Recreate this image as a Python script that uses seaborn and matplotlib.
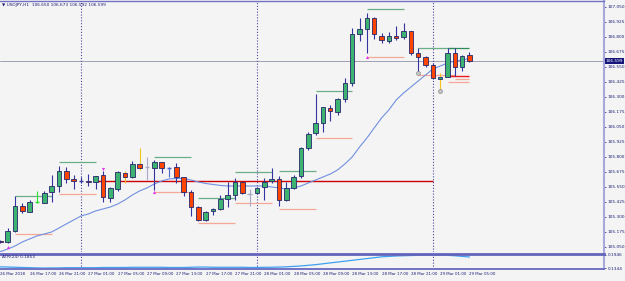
#!/usr/bin/env python3
"""USDJPY H1 candles with MA, range levels and an ATR(24) subwindow, MT4 look."""

import matplotlib
matplotlib.use("Agg")
import matplotlib.pyplot as plt
import matplotlib.transforms as mtransforms
import numpy as np
import pandas as pd
import seaborn as sns

BAR_TIMES = pd.date_range("2018-03-26 13:00", periods=65, freq="h")

OPEN = [105.096, 105.094, 105.183, 105.392, 105.344, 105.423, 105.419, 105.511, 105.561, 105.683,
        105.614, 105.601, 105.600, 105.594, 105.648, 105.456, 105.533, 105.669, 105.631, 105.744,
        105.720, 105.711, 105.756, 105.711, 105.714, 105.631, 105.506, 105.386, 105.275, 105.350,
        105.364, 105.450, 105.483, 105.589, 105.492, 105.497, 105.547, 105.600, 105.619, 105.442,
        105.539, 105.642, 105.877, 105.997, 106.081, 106.211, 106.173, 106.281, 106.414, 106.822,
        106.864, 106.956, 106.808, 106.769, 106.808, 106.797, 106.850, 106.664, 106.631, 106.567,
        106.450, 106.469, 106.664, 106.553, 106.650]
HIGH = [105.105, 105.211, 105.477, 105.414, 105.442, 105.517, 105.519, 105.650, 105.728, 105.719,
        105.650, 105.636, 105.658, 105.642, 105.686, 105.553, 105.683, 105.683, 105.769, 105.872,
        105.797, 105.775, 105.758, 105.719, 105.753, 105.636, 105.525, 105.392, 105.350, 105.372,
        105.483, 105.594, 105.622, 105.594, 105.531, 105.547, 105.622, 105.706, 105.642, 105.594,
        105.650, 105.886, 106.006, 106.322, 106.220, 106.233, 106.289, 106.461, 106.872, 106.956,
        107.003, 106.969, 106.831, 106.844, 106.892, 106.919, 106.853, 106.706, 106.642, 106.581,
        106.503, 106.706, 106.706, 106.650, 106.673]
LOW = [105.085, 105.082, 105.175, 105.336, 105.339, 105.417, 105.414, 105.428, 105.511, 105.586,
       105.531, 105.581, 105.558, 105.531, 105.428, 105.428, 105.519, 105.586, 105.628, 105.692,
       105.608, 105.525, 105.664, 105.631, 105.581, 105.478, 105.311, 105.269, 105.269, 105.317,
       105.358, 105.386, 105.442, 105.489, 105.392, 105.492, 105.442, 105.581, 105.394, 105.433,
       105.533, 105.628, 105.858, 105.983, 106.011, 106.103, 106.150, 106.261, 106.392, 106.769,
       106.664, 106.781, 106.747, 106.747, 106.775, 106.781, 106.650, 106.511, 106.553, 106.450,
       106.358, 106.464, 106.475, 106.517, 106.592]
CLOSE = [105.092, 105.186, 105.392, 105.353, 105.428, 105.423, 105.503, 105.561, 105.683, 105.614,
         105.603, 105.600, 105.592, 105.639, 105.464, 105.539, 105.675, 105.631, 105.742, 105.711,
         105.719, 105.761, 105.706, 105.710, 105.636, 105.506, 105.386, 105.275, 105.344, 105.367,
         105.450, 105.483, 105.589, 105.503, 105.491, 105.539, 105.594, 105.619, 105.442, 105.539,
         105.636, 105.872, 105.992, 106.086, 106.214, 106.183, 106.281, 106.414, 106.822, 106.867,
         106.956, 106.822, 106.775, 106.808, 106.792, 106.850, 106.664, 106.631, 106.567, 106.456,
         106.469, 106.664, 106.553, 106.642, 106.599]

MA = [105.011, 105.033, 105.058, 105.092, 105.117, 105.142, 105.158, 105.175, 105.208, 105.242,
      105.275, 105.308, 105.325, 105.350, 105.367, 105.383, 105.408, 105.442, 105.483, 105.517,
      105.542, 105.575, 105.600, 105.617, 105.621, 105.621, 105.608, 105.592, 105.579, 105.571,
      105.563, 105.558, 105.558, 105.558, 105.558, 105.558, 105.558, 105.550, 105.542, 105.533,
      105.542, 105.558, 105.583, 105.608, 105.633, 105.658, 105.692, 105.742, 105.800, 105.883,
      105.958, 106.042, 106.125, 106.192, 106.275, 106.333, 106.383, 106.433, 106.483, 106.533,
      106.558, 106.583, 106.600, 106.608, 106.621]

ATR = [0.140, 0.139, 0.138, 0.137, 0.136, 0.135, 0.1344, 0.135, 0.135, 0.136,
       0.136, 0.136, 0.136, 0.136, 0.137, 0.137, 0.137, 0.137, 0.138, 0.138,
       0.138, 0.138, 0.138, 0.137, 0.137, 0.137, 0.138, 0.139, 0.139, 0.138,
       0.138, 0.138, 0.138, 0.138, 0.137, 0.137, 0.138, 0.138, 0.139, 0.140,
       0.142, 0.144, 0.147, 0.150, 0.154, 0.158, 0.162, 0.166, 0.170, 0.174,
       0.178, 0.182, 0.186, 0.188, 0.190, 0.191, 0.192, 0.193, 0.194, 0.1946,
       0.194, 0.193, 0.191, 0.188, 0.1853]

# range boxes: top (green) and bottom (salmon) levels, in bar units
LEVEL_START = [2, 8, 21, 27, 32, 38, 43, 50, 57]
LEVEL_END = [7, 13, 26, 32, 37, 43, 48, 55, 62]
LEVEL_HIGH = [105.477, 105.756, 105.803, 105.456, 105.672, 105.683, 106.350, 107.031, 106.711]
LEVEL_LOW = [105.156, 105.489, 105.506, 105.247, 105.414, 105.367, 105.956, 106.636, 106.483]

ACTIVE_START, ACTIVE_END = 61, 64
ACTIVE_HIGH, ACTIVE_LOW = 106.706, 106.475
ACTIVE_EXTRA_LOWS = [106.447, 106.427]
ACTIVE_EXTRA_START = [62, 61]

PIVOT_LEVEL, PIVOT_START, PIVOT_END = 105.597, 13, 59

ARROW_UP_BARS = [1, 21, 50]
ARROW_UP_PRICES = [105.053, 105.505, 106.636]
ARROW_DOWN_BARS = [14]
ARROW_DOWN_PRICES = [105.700]
DOT_BARS = [57, 60]
DOT_PRICES = [106.497, 106.353]

DAY_BREAKS = [11, 35, 59]
PRICE_TICKS = [105.050 + 0.125 * k for k in range(17)]
ATR_TICKS = [0.1344, 0.1946]

BG = "#f4f4f4"
NAVY = "#1c1c78"
WICK = "#3434a0"
GREEN = "#3cb371"
RED = "#ff4500"
EDGE = "#26266c"
FS = 3.1
FS_X = 2.85
SPECIAL_WICK = {5: "#2ee02e", 17: "#f2c21a", 19: "#f2c21a", 60: "#f2c21a",
                20: "#a8a8c8", 34: "#a8a8c8", 23: "#4a6ad0"}

sns.set_style("white")
plt.rcParams["font.family"] = ["DejaVu Sans"]

df = pd.DataFrame({"time": BAR_TIMES, "open": OPEN, "high": HIGH, "low": LOW,
                   "close": CLOSE, "ma": MA, "atr": ATR})
x = np.arange(len(df))

fig = plt.figure(figsize=(6.25, 2.81), dpi=100, facecolor=BG)
ax = fig.add_axes([0, 1 - 252 / 281, 604 / 625, 251 / 281], facecolor=BG)
ax_atr = fig.add_axes([0, 1 - 269 / 281, 604 / 625, 15 / 281], facecolor=BG)

# bid line and day separators
ax.axhline(df.close.iloc[-1], color="#9ca2b4", lw=0.7, zorder=1)
for b in DAY_BREAKS:
    for a in (ax, ax_atr):
        a.axvline(b, color="#4848a0", lw=0.8, ls=(0, (1, 1.6)), zorder=1)

# range levels
for s, e, hi, lo in zip(LEVEL_START, LEVEL_END, LEVEL_HIGH, LEVEL_LOW):
    ax.hlines(hi, s, e, color="#6aae88", lw=0.9, zorder=2)
    ax.hlines(lo, s, e, color="#f4a898", lw=0.9, zorder=2)
ax.hlines(ACTIVE_HIGH, ACTIVE_START, ACTIVE_END, color="#2e8b57", lw=0.9, zorder=2)
ax.hlines(ACTIVE_LOW, ACTIVE_START, ACTIVE_END, color="#ee1c1c", lw=1.0, zorder=2)
for lvl, s in zip(ACTIVE_EXTRA_LOWS, ACTIVE_EXTRA_START):
    ax.hlines(lvl, s, ACTIVE_END, color="#f4a898", lw=0.9, zorder=2)
ax.hlines(PIVOT_LEVEL, PIVOT_START, PIVOT_END, color="#cc0000", lw=1.0, zorder=2)

sns.lineplot(x=x, y=df.ma, ax=ax, color="#7090e0", lw=0.8, zorder=2)

# candles
wick_colors = [SPECIAL_WICK.get(i, WICK) for i in x]
ax.vlines(x, df.low, df.high, colors=wick_colors, lw=0.8, zorder=3)
doji = (df.close - df.open).abs() < 0.003
up = df.close >= df.open
body = df[~doji]
ax.bar(x[~doji], (body.close - body.open).abs(), bottom=np.minimum(body.open, body.close),
       width=0.62, color=np.where(up[~doji], GREEN, RED), edgecolor=EDGE, linewidth=0.6, zorder=4)
ax.hlines(df.close[doji], x[doji] - 0.32, x[doji] + 0.32,
          colors=[wick_colors[i] for i in x[doji]], lw=1.0, zorder=4)

ax.scatter(ARROW_UP_BARS, ARROW_UP_PRICES, marker="^", s=5, color="#e830e8", lw=0, zorder=6)
ax.scatter(ARROW_DOWN_BARS, ARROW_DOWN_PRICES, marker="v", s=5, color="#e830e8", lw=0, zorder=6)
ax.scatter(DOT_BARS, DOT_PRICES, marker="o", s=8, facecolor="#c8c8c8", edgecolor="#8a8a8a",
           lw=0.5, zorder=6)

sns.lineplot(x=x, y=df.atr, ax=ax_atr, color="#3fa0f0", lw=0.9)

# axes cosmetics
for a in (ax, ax_atr):
    a.set_xlim(-0.05, 82.35)
    a.set_xlabel("")
    a.set_ylabel("")
    a.yaxis.tick_right()
    a.spines["left"].set_visible(False)
    a.spines["right"].set_color("#a8a8dc")
    a.spines["right"].set_linewidth(1.5)
    a.tick_params(axis="y", direction="out", length=1.5, width=0.5, colors=NAVY,
                  labelsize=FS, pad=1.2)

ax.set_ylim(105.008, 107.100)
ax.set_yticks(PRICE_TICKS)
ax.set_yticklabels([f"{v:.3f}" for v in PRICE_TICKS])
ax.set_xticks([])
ax.spines["top"].set_color("#7272c4")
ax.spines["top"].set_linewidth(1.0)
ax.spines["bottom"].set_visible(False)

ax_atr.set_ylim(0.1300, 0.1990)
ax_atr.set_yticks(ATR_TICKS)
ax_atr.set_yticklabels([f"{v:.4f}" for v in ATR_TICKS])
ax_atr.spines["top"].set_color("#6464bc")
ax_atr.spines["top"].set_linewidth(2.0)
ax_atr.spines["bottom"].set_color("#7272c4")
ax_atr.spines["bottom"].set_linewidth(1.4)

tick_pos = list(range(0, len(df), 4))
tick_lab = ["26 Mar 2018"] + [df.time[i].strftime("%d %b %H:%M") for i in tick_pos[1:]]
ax_atr.set_xticks(tick_pos)
ax_atr.set_xticklabels(tick_lab, ha="left")
ax_atr.tick_params(axis="x", direction="out", length=1.5, width=0.5, colors=NAVY,
                   labelsize=FS_X, pad=1.0)

# texts
blend = mtransforms.blended_transform_factory(ax.transAxes, ax.transData)
ax.text(1.003, df.close.iloc[-1], f"{df.close.iloc[-1]:.3f}", transform=blend, ha="left",
        va="center", fontsize=FS, color="white", zorder=10, clip_on=False,
        bbox=dict(boxstyle="square,pad=0.25", fc="#16167a", ec="none"))
fig.text(2 / 625, 1 - 5 / 281, "\u25bc USDJPY,H1  106.650 106.673 106.592 106.599",
         fontsize=FS, color=NAVY, va="center", ha="left")
ax_atr.text(0.004, 0.78, "ATR(24) 0.1853", transform=ax_atr.transAxes, fontsize=FS,
            color=NAVY, va="center", ha="left")

fig.savefig("out.png", dpi=100, facecolor=BG)
plt.close(fig)
